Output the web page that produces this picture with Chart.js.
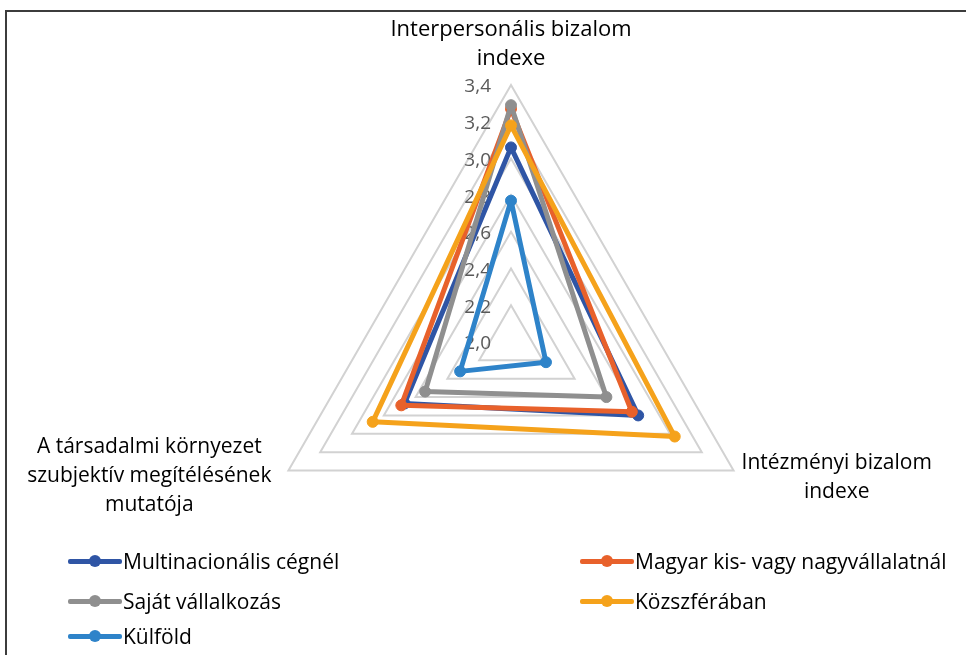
<!DOCTYPE html>
<html>
<head>
<meta charset="utf-8">
<script src="https://cdn.jsdelivr.net/npm/chart.js@4.4.0/dist/chart.umd.min.js"></script>
<style>
  html, body { margin: 0; padding: 0; background: #fff; }
  #wrap { position: relative; width: 966px; height: 655px; overflow: hidden; }
  #frame { position: absolute; left: 5px; top: 10px; width: 970px; height: 660px;
           border-top: 2px solid #3c3c3c; border-left: 2px solid #3c3c3c; }
  canvas { position: absolute; left: 0; top: 0; }
  #legend { position: absolute; left: 0; top: 0; width: 966px; height: 655px;
            font-family: "Open Sans", Lato, sans-serif; font-size: 21px; color: #000; }
  .item { position: absolute; display: flex; align-items: center; height: 30px; white-space: nowrap; }
  .sym { position: relative; width: 54px; height: 30px; margin-right: 1px; }
  .sym .ln { position: absolute; left: 0; right: 0; top: 12.5px; height: 5px; border-radius: 2px; }
  .sym .dt { position: absolute; left: 21px; top: 9px; width: 12px; height: 12px; border-radius: 50%; }
</style>
</head>
<body>
<div id="wrap">
  <div id="frame"></div>
  <canvas id="radar" width="966" height="655"></canvas>
  <div id="legend"></div>
</div>
<script>
const axisLabels = [
  ["Interpersonális bizalom", "indexe"],
  ["Intézményi bizalom", "indexe"],
  ["A társadalmi környezet", "szubjektív megítélésének", "mutatója"],
];
const seriesNames = [
  "Multinacionális cégnél",
  "Magyar kis- vagy nagyvállalatnál",
  "Saját vállalkozás",
  "Közszférában",
  "Külföld",
];
const multinacionalis = [3.06, 2.80, 2.67];
const magyarVallalat = [3.27, 2.76, 2.69];
const sajatVallalkozas = [3.29, 2.60, 2.54];
const kozszfera = [3.18, 3.03, 2.87];
const kulfold = [2.77, 2.22, 2.32];
const tickValues = [2.0, 2.2, 2.4, 2.6, 2.8, 3.0, 3.2, 3.4];
const seriesColors = ["#2F55A5", "#E8612B", "#8F8F8F", "#F5A21B", "#2E83C9"];

const seriesValues = [multinacionalis, magyarVallalat, sajatVallalkozas, kozszfera, kulfold];

// tick labels sit left of the vertical axis, under the lines
const tickLabelPlugin = {
  id: "tickLabels",
  beforeDatasetsDraw(chart) {
    const r = chart.scales.r;
    const ctx = chart.ctx;
    ctx.save();
    ctx.font = "19px 'Open Sans'";
    ctx.fillStyle = "#595959";
    ctx.textAlign = "right";
    ctx.textBaseline = "middle";
    tickValues.forEach((v) => {
      const y = r.yCenter - r.getDistanceFromCenterForValue(v);
      ctx.fillText(v.toFixed(1).replace(".", ","), r.xCenter - 20, y + 2);
    });
    ctx.restore();
  },
};

// centred multi-line category labels
const pointLabelPlugin = {
  id: "axisLabels",
  afterDraw(chart) {
    const r = chart.scales.r;
    const ctx = chart.ctx;
    const lineH = 29;
    ctx.save();
    ctx.fillStyle = "#000";
    ctx.textAlign = "center";
    ctx.textBaseline = "middle";
    axisLabels.forEach((lines, i) => {
      ctx.font = (i === 0 ? "22px" : "21px") + " 'Open Sans'";
      const p = r.getPointPosition(i, r.drawingArea);
      const maxW = Math.max(...lines.map((l) => ctx.measureText(l).width));
      let cx, cy;
      if (i === 0) {
        cx = p.x;
        cy = p.y - 26 - ((lines.length - 1) * lineH) / 2;
      } else if (i === 1) {
        cx = p.x + 8 + maxW / 2;
        cy = p.y + 7;
      } else {
        cx = p.x - 17 - maxW / 2;
        cy = p.y + 6;
      }
      const top = cy - ((lines.length - 1) * lineH) / 2;
      lines.forEach((l, k) => ctx.fillText(l, cx, top + k * lineH));
    });
    ctx.restore();
  },
};

new Chart(document.getElementById("radar"), {
  type: "radar",
  data: {
    labels: axisLabels.map((l) => l.join(" ")),
    datasets: seriesNames.map((name, i) => ({
      label: name,
      data: seriesValues[i],
      borderColor: seriesColors[i],
      backgroundColor: seriesColors[i],
      pointBackgroundColor: seriesColors[i],
      pointBorderColor: seriesColors[i],
      borderWidth: 5,
      pointRadius: 5.5,
      pointBorderWidth: 1,
      borderJoinStyle: "round",
      fill: false,
      order: seriesNames.length - i,
    })),
  },
  options: {
    responsive: false,
    animation: false,
    devicePixelRatio: 1,
    layout: { padding: { left: 211, right: 155, top: 85, bottom: 56 } },
    plugins: {
      legend: { display: false },
      tooltip: { enabled: false },
    },
    scales: {
      r: {
        min: 2.0,
        max: 3.4,
        ticks: { stepSize: 0.2, display: false },
        grid: { color: "#D2D2D2", lineWidth: 2 },
        angleLines: { display: false },
        pointLabels: { display: false },
      },
    },
  },
  plugins: [tickLabelPlugin, pointLabelPlugin],
});

// legend, two columns like the original
const legendDiv = document.getElementById("legend");
const colX = [68, 580];
const rowY = [546, 586, 621];
seriesNames.forEach((name, i) => {
  const item = document.createElement("div");
  item.className = "item";
  item.style.left = colX[i % 2] + "px";
  item.style.top = rowY[Math.floor(i / 2)] + "px";
  item.innerHTML =
    `<span class="sym"><span class="ln" style="background:${seriesColors[i]}"></span>` +
    `<span class="dt" style="background:${seriesColors[i]}"></span></span><span>${name}</span>`;
  legendDiv.appendChild(item);
});
</script>
</body>
</html>
